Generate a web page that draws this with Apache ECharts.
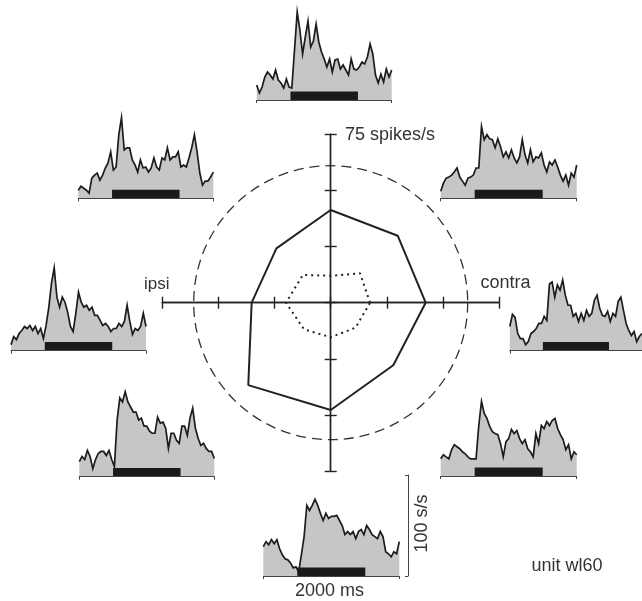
<!DOCTYPE html>
<html>
<head>
<meta charset="utf-8">
<script src="https://cdn.jsdelivr.net/npm/echarts@6/dist/echarts.min.js"></script>
<style>
html,body{margin:0;padding:0;background:#fff;}
#chart{width:642px;height:601px;}
</style>
</head>
<body>
<div id="chart"></div>
<script>
// ---------- DATA ----------
const directions = [0, 45, 90, 135, 180, 225, 270, 315];            // deg, 0 = contra, 180 = ipsi
const tuningStimulus = [42.3, 42.2, 41.3, 34.2, 35.2, 51.9, 47.8, 39.4]; // spikes/s (solid)
const tuningBaseline = [17.5, 18.5, 12.0, 17.5, 19.9, 16.8, 15.4, 15.7]; // spikes/s (dotted)
const polarMax = 75;         // spikes/s at end of axes
const referenceCircle = 61;  // spikes/s, dashed circle
const crossTicks = [-75, -50, -25, 0, 25, 50, 75];
const stimulusWindow = [500, 1500]; // ms
const binTimes = [0,40,80,120,160,200,240,280,320,360,400,440,480,520,560,600,640,680,720,760,800,840,880,920,960,1000,1040,1080,1120,1160,1200,1240,1280,1320,1360,1400,1440,1480,1520,1560,1600,1640,1680,1720,1760,1800,1840,1880,1920,1960,2000];
const rate0   = [24,36,33,17,12,12,6,9,17,19,22,27,27,34,30,66,68,53,65,60,70,55,45,45,34,37,29,37,30,40,34,37,50,55,42,35,34,39,29,37,34,49,53,40,27,20,15,19,9,14,17];
const rate45  = [7,15,20,21,23,26,30,21,17,13,20,21,23,30,30,71,58,63,59,58,50,59,51,41,46,40,48,40,35,41,58,43,35,48,36,41,40,45,33,26,36,33,38,31,23,17,23,13,25,21,33];
const rate90  = [15,7,13,23,28,25,21,30,20,17,12,21,13,12,50,88,70,46,63,79,53,59,76,58,48,41,33,41,28,40,41,31,35,30,25,41,31,30,33,38,36,43,56,46,25,17,26,18,31,23,30];
const rate135 = [8,12,10,8,5,20,23,25,18,23,30,35,46,28,31,63,80,48,50,50,38,33,26,38,30,31,26,30,40,31,28,40,38,50,38,41,41,46,31,33,31,40,50,63,46,25,13,17,17,21,26];
const rate180 = [6,14,11,17,20,24,22,25,20,24,17,22,12,25,43,67,82,53,43,53,48,38,24,19,37,58,48,43,45,40,43,35,35,30,25,27,24,19,22,22,27,24,29,45,29,16,22,20,24,37,24];
const rate225 = [15,20,17,26,20,8,17,23,25,25,21,26,17,10,56,78,74,84,74,69,64,64,56,58,50,50,45,43,43,59,53,54,48,28,43,43,36,33,50,50,41,58,68,48,38,31,33,28,25,25,18];
const rate270 = [29,34,31,36,32,36,27,21,17,16,13,8,9,4,21,39,70,65,70,76,70,62,55,62,57,59,59,60,55,50,41,44,41,44,37,44,46,41,50,46,41,39,37,44,39,24,22,19,24,22,34];
const rate315 = [17,21,19,17,26,31,29,27,24,22,19,17,17,17,50,74,62,57,49,44,42,41,32,19,34,37,46,42,45,37,32,36,27,24,19,42,32,50,47,54,50,55,57,47,41,36,26,31,17,24,21];
const ratesByDirection = [rate0, rate45, rate90, rate135, rate180, rate225, rate270, rate315];
const scaleBarRate = 100; // s/s
const labels = { polarMax: '75 spikes/s', ipsi: 'ipsi', contra: 'contra', time: '2000 ms', rate: '100 s/s', unit: 'unit wl60' };

// ---------- LAYOUT / STYLE ----------
const FONT = '"Liberation Sans", Arial, Helvetica, sans-serif';
const TXT = '#333';
const INK = '#222';
const cx = 330.7, cy = 302.7, R = 168.4, Rc = 137;
// histogram panels: [left, baselineY, width] in direction order
const panels = [
  [509.8, 350.7, 135],
  [440.7, 198.3, 136],
  [256.7, 100.0, 135],
  [78.3, 198.3, 135],
  [11.0, 350.7, 135],
  [79.3, 476.7, 135],
  [263.3, 576.0, 136],
  [440.7, 476.0, 136]
];
const panelHeight = 101; // px for 100 s/s
const barHeight = 8.5;   // s/s

function polarData(vals) {
  const d = directions.map((a, i) => [vals[i], a]);
  d.push([vals[0], directions[0]]);
  return d;
}

const grids = [{ left: cx - R, top: cy - R, width: 2 * R, height: 2 * R }];
const xAxes = [];
const yAxes = [];
const crossAxisCommon = {
  type: 'value', min: -polarMax, max: polarMax, interval: 25,
  axisLine: { onZero: true, lineStyle: { color: INK, width: 1.4 } },
  axisTick: { show: true, length: 6, lineStyle: { color: INK, width: 1.4 }, customValues: crossTicks },
  axisLabel: { show: false }, splitLine: { show: false }
};
xAxes.push(Object.assign({ gridIndex: 0, position: 'bottom' }, crossAxisCommon));
xAxes.push(Object.assign({ gridIndex: 0, position: 'top' }, crossAxisCommon));
yAxes.push(Object.assign({ gridIndex: 0, position: 'left' }, crossAxisCommon));
yAxes.push(Object.assign({ gridIndex: 0, position: 'right' }, crossAxisCommon));

const series = [];
panels.forEach((p, j) => {
  grids.push({ left: p[0], top: p[1] - panelHeight, width: p[2], height: panelHeight });
  xAxes.push({
    gridIndex: j + 1, type: 'value', min: binTimes[0], max: binTimes[binTimes.length - 1], interval: 2000,
    z: 10,
    axisLine: { show: true, onZero: false, lineStyle: { color: '#444', width: 1 } },
    axisTick: { show: true, length: 3, lineStyle: { color: '#444', width: 1 } },
    axisLabel: { show: false }, splitLine: { show: false }
  });
  yAxes.push({ gridIndex: j + 1, type: 'value', min: 0, max: scaleBarRate, show: false, splitLine: { show: false } });
  const data = binTimes.map((t, i) => [t, ratesByDirection[j][i]]);
  series.push({
    type: 'line', xAxisIndex: j + 2, yAxisIndex: j + 2, data: data,
    symbol: 'none', silent: true, z: 2,
    lineStyle: { color: '#1c1c1c', width: 1.7, join: 'miter' },
    areaStyle: { color: '#c6c6c6', opacity: 1 }
  });
  series.push({
    type: 'line', xAxisIndex: j + 2, yAxisIndex: j + 2,
    data: [[stimulusWindow[0], barHeight], [stimulusWindow[1], barHeight]],
    symbol: 'none', silent: true, z: 3,
    lineStyle: { width: 0, color: '#1a1a1a' },
    areaStyle: { color: '#1a1a1a', opacity: 1 }
  });
});
// scale bar axis on bottom panel (270 deg panel -> grid 7)
yAxes.push({
  gridIndex: 7, type: 'value', min: 0, max: scaleBarRate, interval: scaleBarRate,
  position: 'right', offset: 8.7,
  axisLine: { show: true, lineStyle: { color: '#444', width: 1 } },
  axisTick: { show: true, inside: true, length: 3, lineStyle: { color: '#444', width: 1 } },
  axisLabel: { show: false }, splitLine: { show: false }
});

// polar tuning curves
series.push({
  type: 'line', coordinateSystem: 'polar', polarIndex: 0, data: polarData(tuningStimulus),
  symbol: 'none', silent: true, z: 5,
  lineStyle: { color: INK, width: 2 }
});
series.push({
  type: 'line', coordinateSystem: 'polar', polarIndex: 0, data: polarData(tuningBaseline),
  symbol: 'none', silent: true, z: 5,
  lineStyle: { color: INK, width: 2, type: [2, 4] }
});

function txt(text, x, y, size, align, rot) {
  return {
    type: 'text', x: x, y: y, rotation: rot || 0, silent: true, z: 20,
    style: { text: text, font: size + 'px ' + FONT, fill: TXT,
      align: align, textAlign: align, verticalAlign: 'middle', textVerticalAlign: 'middle' }
  };
}

const option = {
  animation: false,
  backgroundColor: '#fff',
  grid: grids,
  xAxis: xAxes,
  yAxis: yAxes,
  polar: [
    { center: [cx, cy], radius: R },
    { center: [cx, cy], radius: Rc }
  ],
  angleAxis: [
    { polarIndex: 0, type: 'value', min: 0, max: 360, startAngle: 0, clockwise: false, show: false, splitLine: { show: false } },
    { polarIndex: 1, type: 'value', min: 0, max: 360, startAngle: 0, clockwise: false,
      axisLine: { show: true, lineStyle: { color: '#333', width: 1.3, type: [10, 6] } },
      axisTick: { show: false }, axisLabel: { show: false }, splitLine: { show: false }, splitArea: { show: false } }
  ],
  radiusAxis: [
    { polarIndex: 0, type: 'value', min: 0, max: polarMax, show: false, splitLine: { show: false } },
    { polarIndex: 1, type: 'value', min: 0, max: referenceCircle, show: false, splitLine: { show: false } }
  ],
  series: series,
  graphic: [
    txt(labels.polarMax, 345, 135, 18, 'left'),
    txt(labels.ipsi, 144, 284, 17, 'left'),
    txt(labels.contra, 480.5, 283, 18, 'left'),
    txt(labels.time, 295, 591, 18, 'left'),
    txt(labels.unit, 531.5, 566.5, 18, 'left'),
    txt(labels.rate, 422.5, 523.5, 18, 'center', Math.PI / 2)
  ]
};

const chart = echarts.init(document.getElementById('chart'), null, { renderer: 'canvas' });
chart.setOption(option);
</script>
</body>
</html>
